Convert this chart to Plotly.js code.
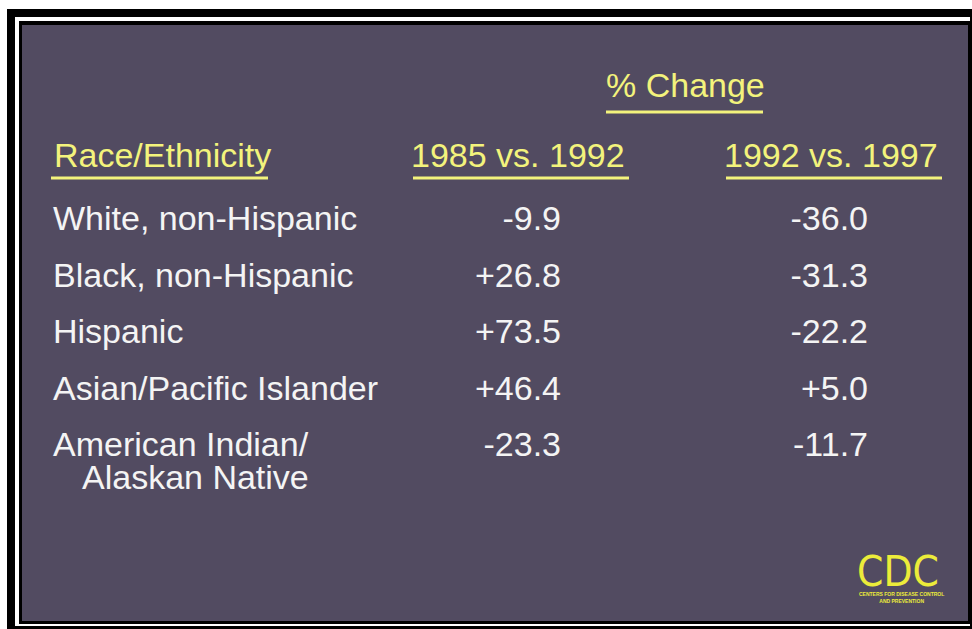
<!DOCTYPE html>
<html><head><meta charset="utf-8">
<script src="https://cdn.plot.ly/plotly-3.0.1.min.js"></script>
<style>html,body{margin:0;padding:0;background:#fff;}#chart{width:972px;height:629px;}</style>
</head><body><div id="chart"></div>
<script>
// ---- data ----
const categories = [
  "White, non-Hispanic",
  "Black, non-Hispanic",
  "Hispanic",
  "Asian/Pacific Islander",
  "American Indian/ Alaskan Native"
];
const change1985vs1992 = [-9.9, 26.8, 73.5, 46.4, -23.3];
const change1992vs1997 = [-36.0, -31.3, -22.2, 5.0, -11.7];
const columnHeaders = ["Race/Ethnicity", "1985 vs. 1992", "1992 vs. 1997"];
const groupHeader = "% Change";
const logoText = "CDC";
const logoSubtitle = ["CENTERS FOR DISEASE CONTROL", "AND PREVENTION"];

// ---- layout constants ----
const W = 972, H = 629;
const FONT = "'Liberation Sans', Arial, Helvetica, sans-serif";
const LOGO_FONT = "'DejaVu Sans Condensed', 'Liberation Sans', sans-serif";
const YELLOW = '#f3f37c', WHITE = '#f4f4f4', PANEL = '#524b61', LOGO = '#ecec3a';
const FS = 34;
const labelX = 53, col1Right = 561, col2Right = 868;
const rowTopPx = 221.5, rowStepPx = 56.5;
const R1 = -rowTopPx / rowStepPx, R0 = R1 + H / rowStepPx;
const px = x => x / W, py = y => 1 - y / H;

function fmt(v) { return (v > 0 ? '+' : '') + v.toFixed(1); }
function firstLine(c) { const i = c.indexOf('/ '); return i >= 0 ? c.slice(0, i + 1) : c; }
function secondLine(c) { const i = c.indexOf('/ '); return i >= 0 ? c.slice(i + 2) : null; }

const cellFont = {family: FONT, size: FS, color: WHITE};
const traces = [
  {type: 'scatter', mode: 'text', x: categories.map(() => labelX), y: categories,
   text: categories.map(firstLine), textposition: 'middle right', textfont: cellFont,
   hoverinfo: 'skip', marker: {size: 0}},
  {type: 'scatter', mode: 'text', x: categories.map(() => col1Right), y: categories,
   text: change1985vs1992.map(fmt), textposition: 'middle left', textfont: cellFont,
   hoverinfo: 'skip', marker: {size: 0}},
  {type: 'scatter', mode: 'text', x: categories.map(() => col2Right), y: categories,
   text: change1992vs1997.map(fmt), textposition: 'middle left', textfont: cellFont,
   hoverinfo: 'skip', marker: {size: 0}}
];

function rect(x0, y0, x1, y1, color) {
  return {type: 'rect', xref: 'paper', yref: 'paper', x0: px(x0), x1: px(x1), y0: py(y1), y1: py(y0),
          fillcolor: color, line: {width: 0}, layer: 'below'};
}
function hline(x0, x1, y, color) {
  return {type: 'line', xref: 'paper', yref: 'paper', x0: px(x0), x1: px(x1), y0: py(y), y1: py(y),
          line: {color: color, width: 3}, layer: 'above'};
}
const shapes = [
  rect(7, 9, 972, 629, '#000000'),
  rect(15, 17, 970, 626, '#ffffff'),
  rect(19, 21, 972, 624, '#000000'),
  rect(22, 25, 968, 621, PANEL),
  hline(606, 763, 112, YELLOW),
  hline(51, 268, 178, YELLOW),
  hline(413, 629, 178, YELLOW),
  hline(726, 942, 178, YELLOW)
];

const headFont = {family: FONT, size: FS, color: YELLOW};
const annotations = [
  {xref: 'paper', yref: 'paper', x: px(685), y: py(85), text: groupHeader, showarrow: false,
   xanchor: 'center', yanchor: 'middle', font: headFont},
  {xref: 'paper', yref: 'paper', x: px(labelX - 1), y: py(155), text: columnHeaders[0], showarrow: false,
   xanchor: 'left', yanchor: 'middle', font: headFont},
  {xref: 'paper', yref: 'paper', x: px(518), y: py(155), text: columnHeaders[1], showarrow: false,
   xanchor: 'center', yanchor: 'middle', font: headFont},
  {xref: 'paper', yref: 'paper', x: px(831), y: py(155), text: columnHeaders[2], showarrow: false,
   xanchor: 'center', yanchor: 'middle', font: headFont},
  {xref: 'paper', yref: 'paper', x: px(898), y: py(571), text: logoText, showarrow: false,
   xanchor: 'center', yanchor: 'middle', font: {family: LOGO_FONT, size: 42, color: LOGO}},
  {xref: 'paper', yref: 'paper', x: px(901), y: py(597), text: '<b>' + logoSubtitle.join('<br>') + '</b>',
   showarrow: false, xanchor: 'center', yanchor: 'middle',
   font: {family: FONT, size: 5, color: LOGO}}
];
categories.forEach(c => {
  const s = secondLine(c);
  if (s) annotations.push({xref: 'x', yref: 'y', x: labelX + 27, y: c, yshift: -29, text: s,
    showarrow: false, xanchor: 'left', yanchor: 'middle', font: cellFont});
});

const layout = {
  width: W, height: H, margin: {l: 0, r: 0, t: 0, b: 0, pad: 0},
  paper_bgcolor: '#ffffff', plot_bgcolor: 'rgba(0,0,0,0)', showlegend: false,
  xaxis: {range: [0, W], visible: false, fixedrange: true},
  yaxis: {type: 'category', categoryorder: 'array', categoryarray: categories,
          range: [R0, R1], visible: false, fixedrange: true},
  shapes: shapes, annotations: annotations
};
Plotly.newPlot('chart', traces, layout, {displayModeBar: false, staticPlot: true});
</script></body></html>
